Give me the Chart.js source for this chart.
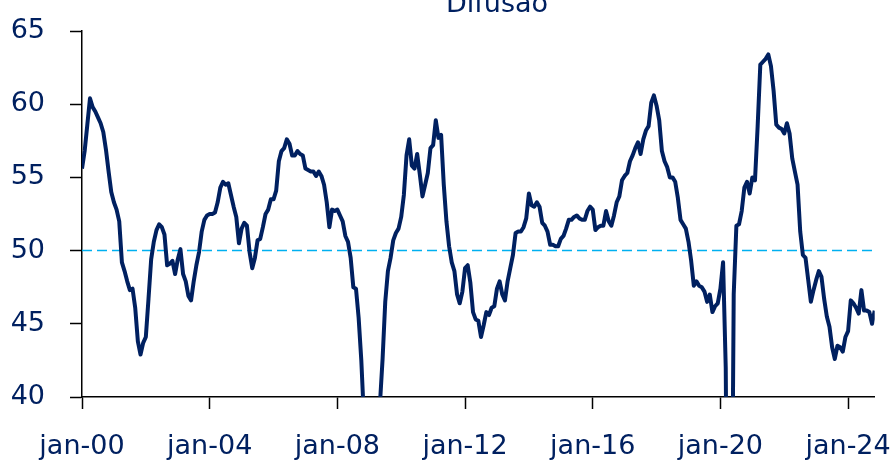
<!DOCTYPE html>
<html lang="pt">
<head>
<meta charset="utf-8">
<title>Difusão</title>
<script src="https://cdn.jsdelivr.net/npm/chart.js@4.4.1/dist/chart.umd.min.js"></script>
<style>
    html, body { margin: 0; padding: 0; background: #fff; }
    #wrap { width: 896px; height: 463px; }
</style>
</head>
<body>
<div id="wrap"><canvas id="diffChart" width="896" height="463"></canvas></div>
<script>
// Monthly diffusion index, jan-2000 onwards (one value per month)
const diffusion = [
    55.6, 56.8, 58.6, 60.4, 59.8, 59.5, 59.1, 58.7, 58.1, 56.9,
    55.4, 54.0, 53.3, 52.8, 52.0, 49.2, 48.6, 47.9, 47.3, 47.4,
    46.1, 43.8, 42.9, 43.7, 44.1, 46.7, 49.4, 50.6, 51.4, 51.8,
    51.6, 51.1, 49.0, 49.1, 49.3, 48.4, 49.4, 50.1, 48.4, 47.9,
    46.9, 46.6, 47.9, 49.0, 49.9, 51.3, 52.1, 52.4, 52.5, 52.5,
    52.6, 53.3, 54.3, 54.7, 54.5, 54.6, 53.8, 53.0, 52.3, 50.5,
    51.5, 51.9, 51.7, 49.9, 48.8, 49.5, 50.7, 50.8, 51.6, 52.5,
    52.8, 53.5, 53.5, 54.1, 56.1, 56.8, 57.0, 57.6, 57.3, 56.5,
    56.5, 56.8, 56.6, 56.5, 55.6, 55.5, 55.4, 55.4, 55.1, 55.4,
    55.1, 54.5, 53.3, 51.6, 52.8, 52.7, 52.8, 52.4, 52.0, 51.0,
    50.6, 49.5, 47.5, 47.4, 45.4, 42.5, 38.5, 36.0, 35.0, 35.5,
    36.5, 37.5, 39.5, 42.6, 46.5, 48.6, 49.5, 50.7, 51.2, 51.5,
    52.3, 53.8, 56.5, 57.6, 55.8, 55.6, 56.6, 55.2, 53.7, 54.5,
    55.3, 57.0, 57.2, 58.9, 57.7, 57.9, 54.5, 52.0, 50.3, 49.2,
    48.6, 47.0, 46.4, 47.2, 48.8, 49.0, 47.8, 45.8, 45.3, 45.2,
    44.1, 44.9, 45.8, 45.6, 46.1, 46.2, 47.4, 47.9, 47.0, 46.6,
    47.9, 48.8, 49.7, 51.2, 51.3, 51.3, 51.6, 52.2, 53.9, 53.1,
    53.0, 53.3, 53.0, 51.9, 51.7, 51.3, 50.4, 50.4, 50.3, 50.3,
    50.8, 51.0, 51.5, 52.1, 52.1, 52.3, 52.4, 52.2, 52.1, 52.1,
    52.7, 53.0, 52.8, 51.4, 51.6, 51.7, 51.7, 52.7, 52.0, 51.7,
    52.4, 53.3, 53.7, 54.8, 55.1, 55.3, 56.1, 56.5, 57.0, 57.4,
    56.6, 57.6, 58.2, 58.5, 60.1, 60.6, 59.9, 58.9, 56.8, 56.1,
    55.7, 55.0, 55.0, 54.7, 53.6, 52.1, 51.8, 51.5, 50.6, 49.3,
    47.6, 47.9, 47.6, 47.5, 47.2, 46.5, 47.0, 45.8, 46.2, 46.4,
    47.4, 49.2, 42.0, 18.0, 22.0, 47.0, 51.7, 51.8, 52.7, 54.3,
    54.7, 53.9, 55.0, 54.8, 58.5, 62.7, 62.9, 63.1, 63.4, 62.6,
    60.9, 58.6, 58.4, 58.3, 58.0, 58.7, 58.0, 56.3, 55.4, 54.5,
    51.3, 49.7, 49.5, 48.0, 46.5, 47.3, 48.0, 48.6, 48.2, 46.7,
    45.5, 44.8, 43.4, 42.6, 43.5, 43.4, 43.1, 44.1, 44.5, 46.6,
    46.4, 46.1, 45.7, 47.3, 45.9, 45.9, 45.8, 45.0, 45.9
];

// Axis ticks
const xTickMonths = [0, 48, 96, 144, 192, 240, 288];
const xTickLabels = ['jan-00', 'jan-04', 'jan-08', 'jan-12', 'jan-16', 'jan-20', 'jan-24'];
const yTicks = [40, 45, 50, 55, 60, 65];
const threshold = 50;

const navy = '#002060';
const font = { family: 'DejaVu Sans', size: 27 };

// Small plugin for the (cropped) title at the top
const titlePlugin = {
    id: 'topTitle',
    afterDraw(chart) {
        const ctx = chart.ctx;
        ctx.save();
        ctx.font = '27px "DejaVu Sans"';
        ctx.fillStyle = navy;
        ctx.textAlign = 'center';
        ctx.textBaseline = 'alphabetic';
        ctx.fillText('Difusão', 497, 11.5);
        ctx.restore();
    }
};

const lastMonth = diffusion.length - 1;

new Chart(document.getElementById('diffChart'), {
    type: 'line',
    data: {
        datasets: [
            {
                label: 'Difusão',
                data: diffusion.map((v, i) => ({ x: i, y: v })),
                borderColor: navy,
                borderWidth: 4,
                pointRadius: 0,
                tension: 0,
                borderJoinStyle: 'round',
                order: 1
            },
            {
                label: '50',
                data: [{ x: 0, y: threshold }, { x: lastMonth, y: threshold }],
                borderColor: '#00B0F0',
                borderWidth: 1.5,
                borderDash: [10, 5],
                pointRadius: 0,
                order: 2
            }
        ]
    },
    options: {
        responsive: false,
        animation: false,
        layout: {
            padding: { top: 31, right: 21.3, left: 0, bottom: 0 }
        },
        plugins: {
            legend: { display: false },
            tooltip: { enabled: false }
        },
        scales: {
            x: {
                type: 'linear',
                min: 0,
                max: lastMonth,
                afterBuildTicks: scale => {
                    scale.ticks = xTickMonths.map(v => ({ value: v }));
                },
                afterFit: scale => {
                    scale.height = 66;
                    scale.paddingLeft = 0;
                    scale.paddingRight = 0;
                },
                ticks: {
                    autoSkip: false,
                    maxRotation: 0,
                    padding: 22,
                    color: navy,
                    font: font,
                    callback: value => xTickLabels[xTickMonths.indexOf(value)]
                },
                grid: {
                    drawOnChartArea: false,
                    drawTicks: true,
                    tickLength: 12,
                    tickColor: '#000',
                    tickWidth: 1.5
                },
                border: { color: '#000', width: 1.5 }
            },
            y: {
                min: 40,
                max: 65,
                afterBuildTicks: scale => {
                    scale.ticks = yTicks.map(v => ({ value: v }));
                },
                afterFit: scale => {
                    scale.width = 82;
                    scale.paddingTop = 0;
                    scale.paddingBottom = 0;
                },
                ticks: {
                    padding: 25,
                    color: navy,
                    font: font
                },
                grid: {
                    drawOnChartArea: false,
                    drawTicks: true,
                    tickLength: 12,
                    tickColor: '#000',
                    tickWidth: 1.5
                },
                border: { color: '#000', width: 1.5 }
            }
        }
    },
    plugins: [titlePlugin]
});
</script>
</body>
</html>
